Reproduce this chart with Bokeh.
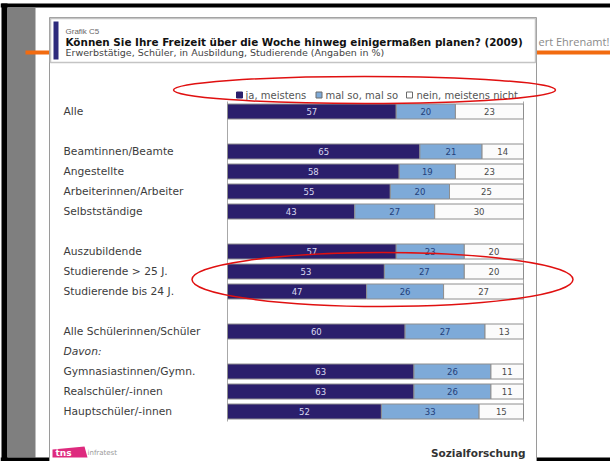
from bokeh.plotting import figure
from bokeh.models import Range1d, ColumnDataSource
from bokeh.core.properties import value
from bokeh.embed import file_html
from bokeh.resources import INLINE

# ---------------- data ----------------
categories = ["Alle", "Beamtinnen/Beamte", "Angestellte", "Arbeiterinnen/Arbeiter",
              "Selbstständige", "Auszubildende", "Studierende > 25 J.",
              "Studierende bis 24 J.", "Alle Schülerinnen/Schüler",
              "Gymnasiastinnen/Gymn.", "Realschüler/-innen", "Hauptschüler/-innen"]
rows = [0, 2, 3, 4, 5, 7, 8, 9, 11, 13, 14, 15]          # row slot of each category
ja_meistens = [57, 65, 58, 55, 43, 57, 53, 47, 60, 63, 63, 52]
mal_so = [20, 21, 19, 20, 27, 23, 27, 26, 27, 26, 26, 33]
nein_nicht = [23, 14, 23, 25, 30, 20, 20, 27, 13, 11, 11, 15]
series_names = ["ja, meistens", "mal so, mal so", "nein, meistens nicht"]
subheading = "Davon:"
subheading_row = 12

title_small = "Grafik C5"
title = "Können Sie Ihre Freizeit über die Woche hinweg einigermaßen planen? (2009)"
subtitle = "Erwerbstätige, Schüler, in Ausbildung, Studierende (Angaben in %)"

# ---------------- layout (page pixels) ----------------
OX, OY = 0, 0
W, H = 610, 461
BAR_L, BAR_R = 227, 523
ROW0, ROW_H = 111, 20
pxp = (BAR_R - BAR_L) / 100.0

C_DARK = "#2b1f6c"
C_MID = "#7eaad8"
C_WHITE = "#fbfbfb"
C_OUT = "#8e8e8e"

p = figure(width=W, height=H, output_backend="svg", toolbar_location=None,
           x_range=Range1d(OX, OX + W), y_range=Range1d(OY + H, OY),
           x_axis_location=None, y_axis_location=None, min_border=0,
           background_fill_color="white", border_fill_color="white")
p.grid.visible = False
p.outline_line_color = None
p.extra_x_ranges = {"pct": Range1d((OX - BAR_L) / pxp, (OX + W - BAR_L) / pxp)}
p.extra_y_ranges = {"slot": Range1d((OY + H - ROW0) / ROW_H, (OY - ROW0) / ROW_H)}

# ---------------- slide decoration ----------------
p.quad(left=[0], right=[610], top=[3], bottom=[7], fill_color="black", line_color=None)
p.quad(left=[1], right=[7], top=[3], bottom=[461], fill_color="black", line_color=None)
p.quad(left=[7], right=[35], top=[7], bottom=[457], fill_color="#7f7f7f", line_color=None)
p.quad(left=[0], right=[610], top=[457], bottom=[461], fill_color="black", line_color=None)
p.segment(x0=[25], y0=[52], x1=[610], y1=[52], line_color="#f26b10", line_width=4)
p.text(x=[538], y=[41], text=["ert Ehrenamt!"], text_font=value("Open Sans"),
       text_font_size=value("11px"), text_color="#8a8a8a", text_baseline="middle")

# chart image box
p.quad(left=[49], right=[536], top=[17], bottom=[470], fill_color="white", line_color="#9a9a9a", line_width=1)
p.quad(left=[50], right=[535], top=[18], bottom=[62], fill_color="white", line_color="#c4c4c4", line_width=1.5)
p.quad(left=[53], right=[58], top=[21], bottom=[59], fill_color="#2d2a7c", line_color=None)
p.text(x=[65], y=[31], text=[title_small], text_font=value("Liberation Sans"),
       text_font_size=value("8px"), text_color="#666666", text_baseline="middle")
p.text(x=[65], y=[41.5], text=[title], text_font=value("DejaVu Sans"), text_font_style="bold",
       text_font_size=value("10.4px"), text_color="#111111", text_baseline="middle")
p.text(x=[65], y=[52], text=[subtitle], text_font=value("DejaVu Sans"),
       text_font_size=value("9.5px"), text_color="#444444", text_baseline="middle")

# legend
leg_sq_x = [239, 318.5, 409]
leg_tx_x = [245, 325, 416]
leg_fill = [C_DARK, C_MID, "white"]
leg_line = [C_DARK, "#6a6a6a", "#6a6a6a"]
p.rect(x=leg_sq_x, y=[94.5] * 3, width=6, height=6, fill_color=leg_fill, line_color=leg_line, line_width=1)
p.text(x=leg_tx_x, y=[94.5] * 3, text=series_names, text_font=value("DejaVu Sans"),
       text_font_size=value("10px"), text_color="#555555", text_baseline="middle")

# bar area frame lines
p.segment(x0=[0, 100], x1=[0, 100], y0=[-0.5, -0.5], y1=[15.5, 15.5], line_color="#a8a8a8",
          line_width=1, x_range_name="pct", y_range_name="slot")

# ---------------- bars ----------------
l1 = [0] * len(ja_meistens)
r1 = ja_meistens
l2 = ja_meistens
r2 = [a + b for a, b in zip(ja_meistens, mal_so)]
l3 = r2
r3 = [a + b for a, b in zip(r2, nein_nicht)]

src = ColumnDataSource(dict(row=rows, l1=l1, r1=r1, l2=l2, r2=r2, l3=l3, r3=r3,
                            m1=[(a + b) / 2 for a, b in zip(l1, r1)],
                            m2=[(a + b) / 2 for a, b in zip(l2, r2)],
                            m3=[(a + b) / 2 for a, b in zip(l3, r3)],
                            t1=[str(v) for v in ja_meistens],
                            t2=[str(v) for v in mal_so],
                            t3=[str(v) for v in nein_nicht]))
for lc, rc, col in (("l1", "r1", C_DARK), ("l2", "r2", C_MID), ("l3", "r3", C_WHITE)):
    p.hbar(y="row", left=lc, right=rc, height=0.75, source=src, fill_color=col,
           line_color=C_OUT, line_width=1, x_range_name="pct", y_range_name="slot")

for mc, tc, col in (("m1", "t1", "#d8d8f0"), ("m2", "t2", "#23407a"), ("m3", "t3", "#4a4a4a")):
    p.text(x=mc, y="row", text=tc, source=src, text_align="center", text_baseline="middle",
           text_font=value("DejaVu Sans"), text_font_size=value("8.5px"), text_color=col,
           x_range_name="pct", y_range_name="slot")

# category labels
p.text(x=[63] * len(categories), y=rows, text=categories, text_font=value("DejaVu Sans"),
       text_font_size=value("10.7px"), text_color="#3c3c3c", text_baseline="middle",
       y_range_name="slot")
p.text(x=[63], y=[subheading_row], text=[subheading], text_font=value("DejaVu Sans"),
       text_font_style="italic", text_font_size=value("10.7px"), text_color="#3c3c3c",
       text_baseline="middle", y_range_name="slot")

# footer
p.patch(x=[52, 84, 87, 52], y=[449, 446, 457, 457], fill_color="#de2a7e", line_color=None)
p.text(x=[55], y=[452], text=["tns"], text_font=value("DejaVu Sans"), text_font_style="bold",
       text_font_size=value("9px"), text_color="white", text_baseline="middle")
p.text(x=[87], y=[452.5], text=["infratest"], text_font=value("DejaVu Sans"),
       text_font_size=value("7px"), text_color="#999999", text_baseline="middle")
p.text(x=[525], y=[452], text=["Sozialforschung"], text_font=value("DejaVu Sans"),
       text_font_style="bold", text_font_size=value("10.5px"), text_color="#333333",
       text_baseline="middle", text_align="right")

# red ellipses
p.ellipse(x=[364], y=[89.5], width=[382], height=[27], width_units="screen", height_units="screen",
          fill_color=None, line_color="#e01010", line_width=1.5)
p.ellipse(x=[382], y=[279], width=[381], height=[54], width_units="screen", height_units="screen",
          fill_color=None, line_color="#e01010", line_width=1.5)

open("out.html", "w").write(file_html(p, INLINE))
